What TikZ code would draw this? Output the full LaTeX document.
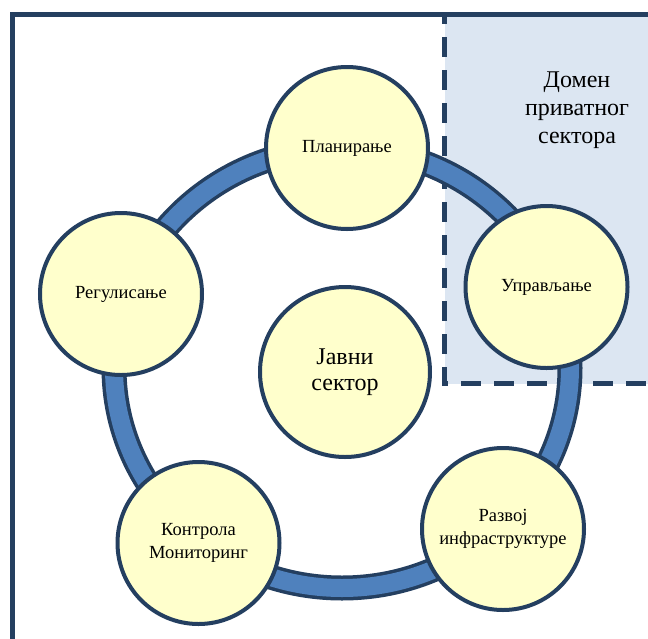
\documentclass[tikz,border=0pt]{standalone}
\usepackage{fontspec}
\setmainfont{Liberation Serif}
\definecolor{frameblue}{HTML}{243F60}
\definecolor{ringblue}{HTML}{4F81BD}
\definecolor{nodefill}{HTML}{FFFFCC}
\definecolor{domainfill}{HTML}{DCE6F2}
\begin{document}
\begin{tikzpicture}[x=1pt,y=-1pt,
  phase/.style={circle, draw=frameblue, line width=4pt, fill=nodefill,
    minimum size=162pt, inner sep=0pt, align=center,
    font=\fontsize{18.5}{22.5}\selectfont},
  core/.style={phase, minimum size=170pt, font=\fontsize{24}{26}\selectfont},
  ringline/.style={line width=#1}]
\useasboundingbox (0,0) rectangle (648,638);
\begin{scope}
  \clip (0,0) rectangle (648,638);
  % private sector domain
  \fill[domainfill] (444.5,14.5) rectangle (700,383.5);
  \draw[frameblue, line width=5pt, dash pattern=on 20pt off 13pt, dash phase=10.5pt]
    (444.5,14.5) -- (444.5,383.5) -- (700,383.5);
  % outer frame
  \draw[frameblue, line width=5pt] (12,700) -- (12,14.5) -- (700,14.5);
\end{scope}
\node[font=\fontsize{24}{27.7}\selectfont, align=center] (domain) at (577,110)
  {Домен\\приватног\\сектора};
% cycle ring
\coordinate (hub) at (342,368);
\draw[frameblue, ringline=25pt] (hub) ellipse [x radius=228pt, y radius=220pt];
\draw[ringblue, ringline=18pt] (hub) ellipse [x radius=228pt, y radius=220pt];
% phases
\node[phase] (plan) at (347,148) {Планирање};
\node[phase] (upr)  at (546.5,287) {Управљање};
\node[phase] (razv) at (503,529) {Развој\\инфраструктуре};
\node[phase] (kont) at (198.5,543) {Контрола\\Мониторинг};
\node[phase] (reg)  at (121,294) {Регулисање};
\node[core]  (javni) at (345,372) {Јавни\\сектор};
\end{tikzpicture}
\end{document}
